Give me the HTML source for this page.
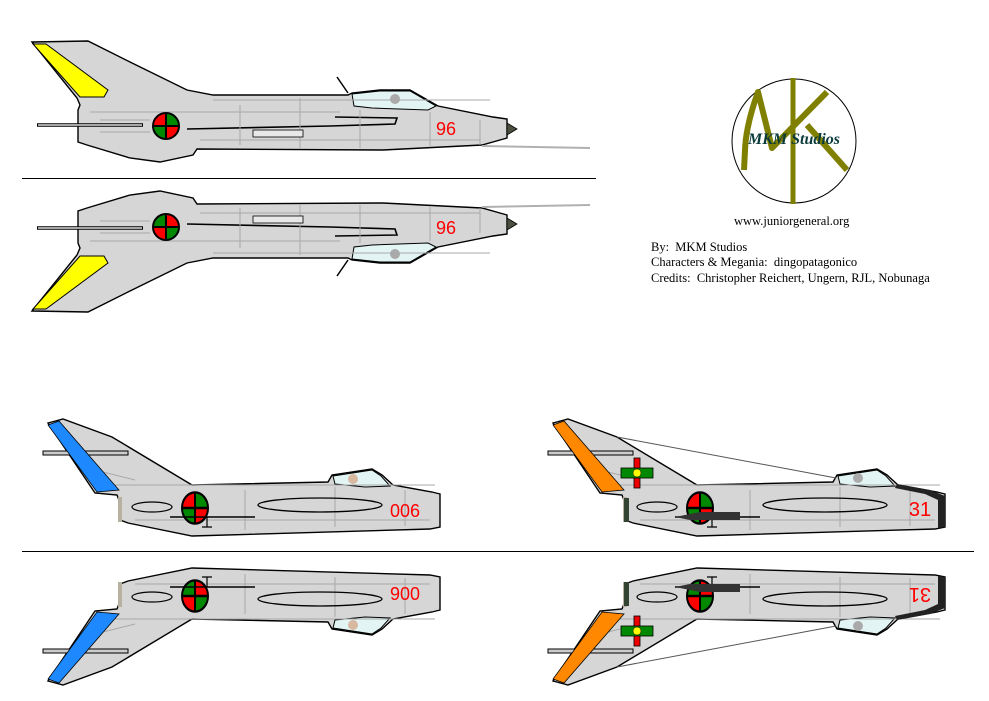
<!DOCTYPE html>
<html><head><meta charset="utf-8"><style>
html,body{margin:0;padding:0;background:#fff;width:989px;height:701px;overflow:hidden}
svg{display:block}
.s{font-family:"Liberation Serif",serif;font-size:12.5px;fill:#000}
.n{font-family:"Liberation Sans",sans-serif;fill:#f00}
</style></head><body>
<svg width="989" height="701" viewBox="0 0 989 701" xmlns="http://www.w3.org/2000/svg">
<defs>
<g id="rnd">
<circle r="13" fill="#f00"/>
<path d="M0,0 L0,-13 A13,13 0 0 1 13,0 Z" fill="#080"/>
<path d="M0,0 L0,13 A13,13 0 0 1 -13,0 Z" fill="#080"/>
<circle r="13" fill="none" stroke="#000" stroke-width="2"/>
<path d="M-13,0 H13 M0,-13 V13" stroke="#000" stroke-width="2"/>
</g>
<g id="f7">
<path d="M32,42 L88,41 L130,62 L187,90 L213,95 L348,95 L352,93 L380,90 L410,90 L438,106 L493,117 L507,119 L507,138 L482,145 L383,150 L197,149 L193,155 L160,162 L130,158 L87,145 L78,142 L78,110 L80,105 L77,98 Z" fill="#d6d6d6" stroke="#000" stroke-width="1.4"/>
<path d="M33,44 L46,44 L108,90 L104,97 L80,97 Z" fill="#ff0" stroke="#000" stroke-width="1"/>
<path d="M352,94 L380,91 L410,91 L436,106 L428,110 L372,108 L354,106 Z" fill="#e2f4f4" stroke="#000" stroke-width="1"/>
<circle cx="395" cy="99" r="5" fill="#aaa"/>
<path d="M507,123 L517,129 L507,135 Z" fill="#4a5040" stroke="#000" stroke-width="0.8"/>
<path d="M337,77 L348,93" stroke="#000" stroke-width="1.5"/>
<path d="M482,146 L590,148" stroke="#b0b0b0" stroke-width="2"/>
<path d="M37,125 L143,125" stroke="#000" stroke-width="3.5"/><path d="M38,125 L142,125" stroke="#ddd" stroke-width="1.5"/>
<path d="M187,129 L330,126 L395,124 L397,118 L335,117" stroke="#000" stroke-width="1.6" fill="none"/>
<path d="M213,100 H490 M90,112 H340 M200,140 H480 M240,105 V145 M300,98 V148 M360,110 V148 M430,112 V146 M100,120 H150 M100,132 H150 M480,120 V145" stroke="#a8a8a8" stroke-width="1" fill="none"/>
<rect x="253" y="130" width="50" height="7" fill="#e8e8e8" stroke="#000" stroke-width="0.8"/>
<use href="#rnd" x="166" y="126"/>
</g>
<g id="mig">
<path d="M553,423 L568,419 L617,437 L697,485 L833,482 L837,475 L877,469 L887,475 L898,485 L937,492 L945,494 L945,527 L935,529 L697,536 L633,523 L625,520 L625,503 L622,495 L600,493 Z" fill="#d6d6d6" stroke="#000" stroke-width="1.4"/>
<path d="M838,476 L877,470 L886,476 L895,486 L870,487 L840,484 Z" fill="#e2f4f4" stroke="#000" stroke-width="1"/>
<path d="M620,485 H940 M640,520 H935 M750,490 V530 M840,487 V527 M910,490 V526 M600,470 L640,480" stroke="#a8a8a8" stroke-width="1" fill="none"/>
<ellipse cx="825" cy="505" rx="62" ry="7" fill="none" stroke="#000" stroke-width="1.3"/>
<ellipse cx="657" cy="507" rx="20" ry="5" fill="none" stroke="#000" stroke-width="1.2"/>
<rect x="548" y="451" width="85" height="4" fill="#ccc" stroke="#000" stroke-width="1"/>
<rect x="623" y="497" width="4" height="25" fill="#b8b0a0"/>
<g transform="translate(700,508) scale(1,1.2)"><use href="#rnd"/></g>
<path d="M675,517 H760" stroke="#000" stroke-width="1.5"/>
<path d="M712,517 V527 M707,527 H717" stroke="#000" stroke-width="1.2"/>
</g>
<g id="migL">
<use href="#mig" x="-505"/>
<path d="M48,425 L59,421 L119,490 L97,492 Z" fill="#1e88ff" stroke="#000" stroke-width="0.8"/>
<circle cx="353" cy="479" r="5" fill="#d8b8a0"/>
</g>
<g id="migR">
<use href="#mig"/>
<path d="M553,425 L564,421 L624,490 L602,492 Z" fill="#ff8800" stroke="#000" stroke-width="0.8"/>
<path d="M897,484 L930,490 L945,496 L945,527 L938,528 L938,500 L925,494 L895,488 Z" fill="#222"/>
<rect x="624" y="498" width="5" height="24" fill="#334433"/>
<path d="M617,437 L836,478" stroke="#555" stroke-width="1"/>
<circle cx="858" cy="478" r="5" fill="#aaa"/>
<rect x="634" y="458" width="6" height="30" fill="#e00" stroke="#000" stroke-width="0.8"/>
<rect x="621" y="468" width="32" height="10" fill="#080" stroke="#000" stroke-width="0.8"/>
<circle cx="637" cy="473" r="4" fill="#ff0" stroke="#000" stroke-width="0.5"/>
<path d="M675,517 L700,512 L740,512 L740,520 L690,520 Z" fill="#333"/>
</g>
</defs>

<use href="#f7"/>
<use href="#f7" transform="matrix(1,0,0,-1,0,353)"/>
<text class="n" x="446" y="135" font-size="18" text-anchor="middle">96</text>
<text class="n" x="446" y="234" font-size="18" text-anchor="middle">96</text>
<path d="M22,178.5 H596" stroke="#000" stroke-width="1"/>

<use href="#migL"/>
<use href="#migL" transform="matrix(1,0,0,-1,0,1104)"/>
<use href="#migR"/>
<use href="#migR" transform="matrix(1,0,0,-1,0,1104)"/>
<text class="n" x="405" y="517" font-size="18" text-anchor="middle">006</text>
<text class="n" x="405" y="600" font-size="18" text-anchor="middle">900</text>
<text class="n" x="920" y="516" font-size="20" text-anchor="middle">31</text>
<text class="n" x="920" y="602" font-size="20" text-anchor="middle" transform="rotate(180 920 595)">31</text>
<path d="M22,551.5 H974" stroke="#000" stroke-width="1"/>

<circle cx="794" cy="141" r="62" fill="#fff" stroke="#000" stroke-width="1"/>
<path d="M793,78 V204" stroke="#808000" stroke-width="5"/>
<path d="M744,170 L745,150 Q746,125 758,92 L772,148 L827,92 M807,125 L847,170" stroke="#808000" stroke-width="6" fill="none" stroke-linejoin="round"/>
<text x="794" y="144" text-anchor="middle" font-family="Liberation Serif,serif" font-style="italic" font-weight="bold" font-size="16" fill="#0a3a3a">MKM Studios</text>
<text class="s" x="734" y="225">www.juniorgeneral.org</text>
<text class="s" x="651" y="251" xml:space="preserve">By:  MKM Studios</text>
<text class="s" x="651" y="266" xml:space="preserve">Characters &amp; Megania:  dingopatagonico</text>
<text class="s" x="651" y="282" xml:space="preserve">Credits:  Christopher Reichert, Ungern, RJL, Nobunaga</text>
</svg>
</body></html>
